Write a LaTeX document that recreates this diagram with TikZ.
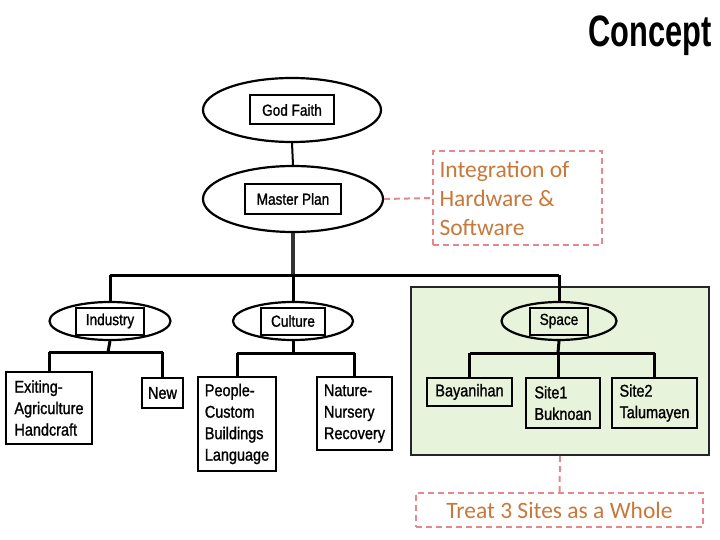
\documentclass[tikz,border=0pt]{standalone}
\usepackage{fontspec}
\setmainfont{Liberation Sans}
\newfontfamily\narrowfont[FakeStretch=0.85,FakeBold=1.2]{Liberation Sans}
\newfontfamily\titlefont[FakeStretch=0.7]{Liberation Sans}
\newfontfamily\notefont{Carlito}
\usetikzlibrary{shapes.geometric}
\definecolor{notered}{HTML}{E5878C}
\definecolor{noteorange}{HTML}{C8783A}
\definecolor{zonegreen}{HTML}{E7F3DA}

\tikzset{
    oval/.style={ellipse, draw, line width=2.2pt, inner sep=0pt},
    tag/.style={draw, line width=2pt, inner xsep=10pt, minimum height=27pt, font=\narrowfont\fontsize{16}{20}\selectfont},
    leaf/.style={draw, line width=2pt, align=left, font=\narrowfont\fontsize{17}{21.5}\selectfont},
    note/.style={draw=notered, dashed, dash pattern=on 6pt off 4pt, line width=2pt, text=noteorange, font=\notefont\fontsize{23.5}{29}\selectfont},
    link/.style={line width=2pt},
    trunk/.style={line width=3.4pt},
    bus/.style={line width=3pt},
    notelink/.style={draw=notered, dashed, dash pattern=on 6pt off 4pt, line width=2pt}
}

\begin{document}
\begin{tikzpicture}[x=1pt, y=-1pt]
    \useasboundingbox (0,0) rectangle (720,540);
    \node[anchor=east, inner sep=0pt] (title) at (712,36) {\titlefont\bfseries\fontsize{44}{44}\selectfont Concept};

    \node[draw=black!85, fill=zonegreen, line width=2pt, minimum width=298pt, minimum height=168pt, inner sep=0pt] (zone) at (560,371) {};

    \node[oval, minimum width=178pt, minimum height=64pt] (gf) at (292,110) {};
    \node[tag, inner xsep=12pt, minimum height=29pt] (gft) at (gf.center) {God Faith};
    \node[oval, minimum width=180pt, minimum height=66pt] (mp) at (293,199) {};
    \node[tag, inner xsep=12pt, minimum height=30pt] (mpt) at (mp.center) {Master Plan};

    \node[oval, minimum width=121pt, minimum height=38pt] (ind) at (110,321) {};
    \node[tag] (indt) at (ind.center) {Industry};
    \node[oval, minimum width=120pt, minimum height=38pt] (cul) at (293,321) {};
    \node[tag] (cult) at (cul.center) {Culture};
    \node[oval, minimum width=115pt, minimum height=38pt] (spc) at (559,321) {};
    \node[tag] (spct) at (spc.center) {Space};

    \node[leaf, minimum width=86pt, minimum height=72pt] (exi) at (49,408) {Exiting-\\Agriculture\\Handcraft};
    \node[leaf, minimum width=41pt, minimum height=30pt] (new) at (162.5,393) {New};
    \node[leaf, minimum width=78pt, minimum height=94pt] (ppl) at (237,424) {People-\\Custom\\Buildings\\Language};
    \node[leaf, minimum width=75pt, minimum height=73pt] (nat) at (354.5,413.5) {Nature-\\Nursery\\Recovery};
    \node[leaf, minimum width=85pt, minimum height=28pt] (bay) at (469.5,392) {Bayanihan};
    \node[leaf, minimum width=74pt, minimum height=50pt] (st1) at (563,403) {Site1\\Buknoan};
    \node[leaf, minimum width=85pt, minimum height=50pt] (st2) at (654.5,403) {Site2\\Talumayen};

    \node[note, minimum width=169pt, minimum height=94pt, text width=156pt, align=flush left] (integ) at (517.5,198) {Integration of\\Hardware \&\\Software};
    \node[note, minimum width=287pt, minimum height=34pt] (whole) at (559.5,510) {Treat 3 Sites as a Whole};

    \coordinate (hub) at (293,275);
    \coordinate (indbus) at (108,352);
    \coordinate (culbus) at (293,353);
    \coordinate (spcbus) at (558,353);

    \draw[link] (gf.south) -- (mp.north);
    \draw[trunk, black!80] (mp.south) -- (hub);
    \draw[bus] (ind.north |- hub) -- (spc.north |- hub);
    \draw[bus] (ind.north |- hub) -- (ind.north);
    \draw[bus] (spc.north |- hub) -- (spc.north);
    \draw[bus] (hub) -- (cul.north);

    \draw[bus] (ind.south) -- (indbus);
    \draw[bus] (exi.north |- indbus) -- (new.north |- indbus);
    \draw[bus] (exi.north |- indbus) -- (exi.north);
    \draw[bus] (new.north |- indbus) -- (new.north);

    \draw[bus] (cul.south) -- (culbus);
    \draw[bus] (ppl.north |- culbus) -- (nat.north |- culbus);
    \draw[bus] (ppl.north |- culbus) -- (ppl.north);
    \draw[bus] (nat.north |- culbus) -- (nat.north);

    \draw[bus] (spc.south) -- (spcbus);
    \draw[bus] (bay.north |- spcbus) -- (st2.north |- spcbus);
    \draw[bus] (bay.north |- spcbus) -- (bay.north);
    \draw[bus] (spcbus) -- (spcbus |- st1.north);
    \draw[bus] (st2.north |- spcbus) -- (st2.north);

    \draw[notelink] (mp.east) -- (integ.west);
    \draw[notelink] (zone.south) -- (whole.north);
\end{tikzpicture}
\end{document}
